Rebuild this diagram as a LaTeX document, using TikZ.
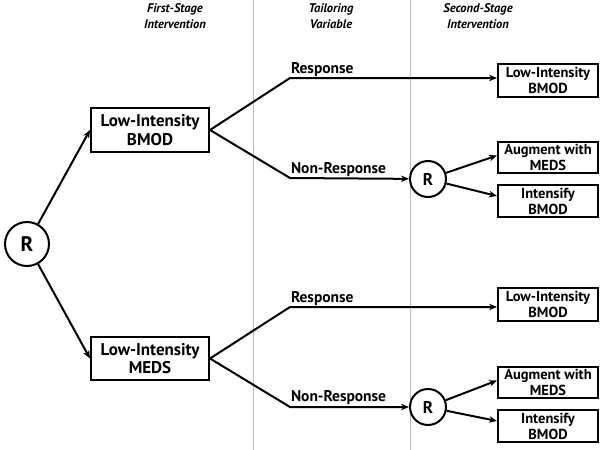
\documentclass[tikz,border=0pt]{standalone}
\usepackage{fontspec}
\setmainfont{PT Sans}
\usetikzlibrary{arrows.meta}
\begin{document}
\begin{tikzpicture}[x=1pt,y=-1pt,
  line width=2pt,
  bigbox/.style={draw, rectangle, minimum width=118pt, minimum height=43pt, inner sep=0pt, align=center, font=\fontsize{17}{18.5}\selectfont\bfseries},
  smallbox/.style={draw, rectangle, minimum width=100pt, inner sep=0pt, align=center, font=\fontsize{14.5}{16}\selectfont\bfseries},
  rand/.style={draw, circle, inner sep=0pt, font=\bfseries},
  lbl/.style={anchor=base west, inner sep=0pt, font=\fontsize{15.5}{17}\selectfont\bfseries},
  hdr/.style={align=center, inner sep=0pt, font=\fontsize{12.5}{15.5}\selectfont\bfseries\itshape},
  arr/.style={-{Stealth[length=8pt,width=6.5pt]}},
  sep/.style={draw=black!27, line width=0.9pt}
]
\useasboundingbox (0,0) rectangle (600,450);
% separators
\coordinate (s1t) at (253,0); \coordinate (s1b) at (253,450);
\coordinate (s2t) at (410,0); \coordinate (s2b) at (410,450);
\draw[sep] (s1t) -- (s1b);
\draw[sep] (s2t) -- (s2b);
% headers
\node[hdr] (h1) at (175,16) {First-Stage\\Intervention};
\node[hdr] (h2) at (331,16) {Tailoring\\Variable};
\node[hdr] (h3) at (478,16) {Second-Stage\\Intervention};
% nodes
\node[rand, minimum size=44pt, font=\fontsize{21}{22}\selectfont\bfseries] (r0) at (27,244) {R};
\node[bigbox, minimum height=44pt] (b1) at (150,130) {Low-Intensity\\BMOD};
\node[bigbox] (b2) at (150,358.5) {Low-Intensity\\MEDS};
\node[rand, minimum size=36pt, font=\fontsize{17}{18}\selectfont\bfseries] (r1) at (428,179) {R};
\node[rand, minimum size=36pt, font=\fontsize{17}{18}\selectfont\bfseries] (r2) at (428,407) {R};
\node[smallbox, minimum height=33pt] (t1) at (548,80.5) {Low-Intensity\\BMOD};
\node[smallbox, minimum height=31pt] (a1) at (548,157.5) {Augment with\\MEDS};
\node[smallbox, minimum height=32pt] (i1) at (548,201) {Intensify\\BMOD};
\node[smallbox, minimum height=33pt] (t2) at (548,304.5) {Low-Intensity\\BMOD};
\node[smallbox, minimum height=31pt] (a2) at (548,382.5) {Augment with\\MEDS};
\node[smallbox, minimum height=32pt] (i2) at (548,426) {Intensify\\BMOD};
% junctions
\coordinate (j1) at (290,78);
\coordinate (k1) at (290,178);
\coordinate (j2) at (290,307);
\coordinate (k2) at (290,407);
\coordinate (e1) at (t1.west |- j1);
\coordinate (e2) at (t2.west |- j2);
% connectors
\draw[arr] (r0) -- (b1.west);
\draw[arr] (r0) -- (b2.west);
\draw[arr] (b1.east) -- (j1) -- (e1);
\draw[arr] (b1.east) -- (k1) -- (r1);
\draw[arr] (b2.east) -- (j2) -- (e2);
\draw[arr] (b2.east) -- (k2) -- (r2);
\draw[arr] (r1) -- ([yshift=2pt]a1.west);
\draw[arr] (r1) -- ([yshift=5pt]i1.west);
\draw[arr] (r2) -- ([yshift=2pt]a2.west);
\draw[arr] (r2) -- ([yshift=5pt]i2.west);
% labels
\node[lbl] (l1) at (290,73) {Response};
\node[lbl] (l2) at (290,173) {Non-Response};
\node[lbl] (l3) at (290,302) {Response};
\node[lbl] (l4) at (290,401) {Non-Response};
\end{tikzpicture}
\end{document}
